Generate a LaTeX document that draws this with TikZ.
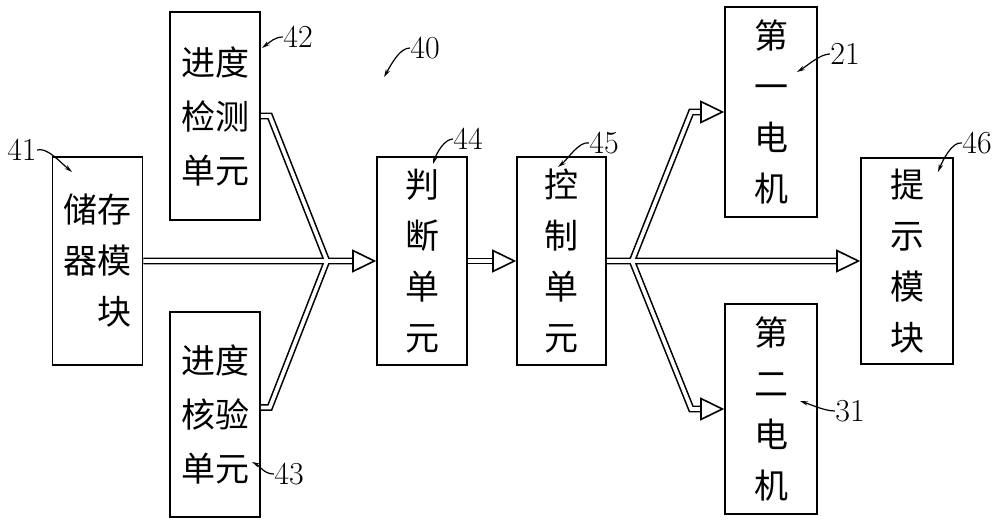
\documentclass[tikz,border=0pt]{standalone}
\usepackage{fontspec}
\newfontfamily\cjk{Noto Sans CJK SC}
\usetikzlibrary{arrows.meta,calc,positioning}

\begin{document}
\begin{tikzpicture}[x=0.5pt,y=-0.5pt,
  box/.style={draw,line width=0.8pt,minimum width=45pt,minimum height=104pt,inner sep=0pt,align=center,font=\cjk\fontsize{17}{25.5}\selectfont},
  dbl/.style={line width=0.8pt,double=white,double distance=1.8pt},
  tip/.style={line width=0.8pt,-{Triangle[open,length=12pt,width=11.5pt]}},
  lead/.style={line width=0.6pt,-{Stealth[length=4pt,width=2.2pt]}},
  num/.style={font=\fontsize{16}{16}\selectfont,inner sep=0pt}]
\useasboundingbox (0,0) rectangle (1000,528);
% boxes
\node[box,align=right] (store) at (97.5,261) {储存\\器模\\块};
\node[box,font=\cjk\fontsize{17}{27}\selectfont] (detect) at (215,116) {进度\\检测\\单元};
\node[box,font=\cjk\fontsize{17}{27}\selectfont,minimum height=102.5pt] (verify) at (215,414.5) {进度\\核验\\单元};
\node[box] (judge) at (422,261) {判\\断\\单\\元};
\node[box,minimum width=44.5pt] (ctrl) at (561.5,261) {控\\制\\单\\元};
\node[box,minimum width=46pt,minimum height=105pt] (motorA) at (771,112) {第\\一\\电\\机};
\node[box,minimum width=46pt,minimum height=105pt] (motorB) at (771,409) {第\\二\\电\\机};
\node[box,minimum width=46pt,minimum height=103pt] (hint) at (907,261) {提\\示\\模\\块};
% double connectors
\coordinate (mergeL) at (327,261);
\coordinate (splitR) at (632,261);
\draw[dbl] (detect.east) -- ++(9,0) -- (mergeL) -- ([xshift=-12pt]judge.west)
  ([yshift=3.5pt]verify.east) -- ++(9,0) -- (mergeL)
  (store.east) -- (mergeL);
\draw[dbl] (judge.east) -- ([xshift=-12pt]ctrl.west);
\draw[dbl] (ctrl.east) -- ([xshift=-12pt]hint.west)
  (splitR) -- ([xshift=-16.5pt]motorA.west) -- ([xshift=-12pt]motorA.west)
  (splitR) -- ([xshift=-16.5pt]motorB.west) -- ([xshift=-12pt]motorB.west);
\foreach \b in {judge,ctrl,motorA,motorB,hint}
  \draw[tip] ([xshift=-12pt]\b.west) -- (\b.west);
% reference numbers
\coordinate (p41) at (72,172);
\coordinate (p42) at (262,48);
\coordinate (p40) at (384,77);
\coordinate (p44) at (433,164);
\coordinate (p45) at (558,167);
\coordinate (p21) at (797,72);
\coordinate (p46) at (938,172);
\coordinate (p31) at (800,401);
\coordinate (p43) at (252,462);
\node[num] (lbl41) at (22,150) {41};
\node[num] (lbl42) at (298,37) {42};
\node[num] (lbl40) at (425,48) {40};
\node[num] (lbl44) at (468,139) {44};
\node[num] (lbl45) at (604,143) {45};
\node[num] (lbl21) at (845,54) {21};
\node[num] (lbl46) at (977,143) {46};
\node[num] (lbl31) at (850,411) {31};
\node[num] (lbl43) at (289,474) {43};
\draw[lead] (lbl41.east) .. controls +(10,-3) and +(-12,-10) .. (p41);
\draw[lead] (lbl42.west) .. controls +(-8,0) and +(8,-6) .. (p42);
\draw[lead] (lbl40.west) .. controls +(-10,0) and +(8,-14) .. (p40);
\draw[lead] (lbl44.west) .. controls +(-8,0) and +(4,-12) .. (p44);
\draw[lead] (lbl45.west) .. controls +(-10,-2) and +(10,-8) .. (p45);
\draw[lead] (lbl21.west) .. controls +(-10,0) and +(10,-6) .. (p21);
\draw[lead] (lbl46.west) .. controls +(-10,-2) and +(4,-10) .. (p46);
\draw[lead] (lbl31.west) .. controls +(-10,0) and +(12,4) .. (p31);
\draw[lead] (lbl43.west) .. controls +(-10,0) and +(8,4) .. (p43);
\end{tikzpicture}
\end{document}
